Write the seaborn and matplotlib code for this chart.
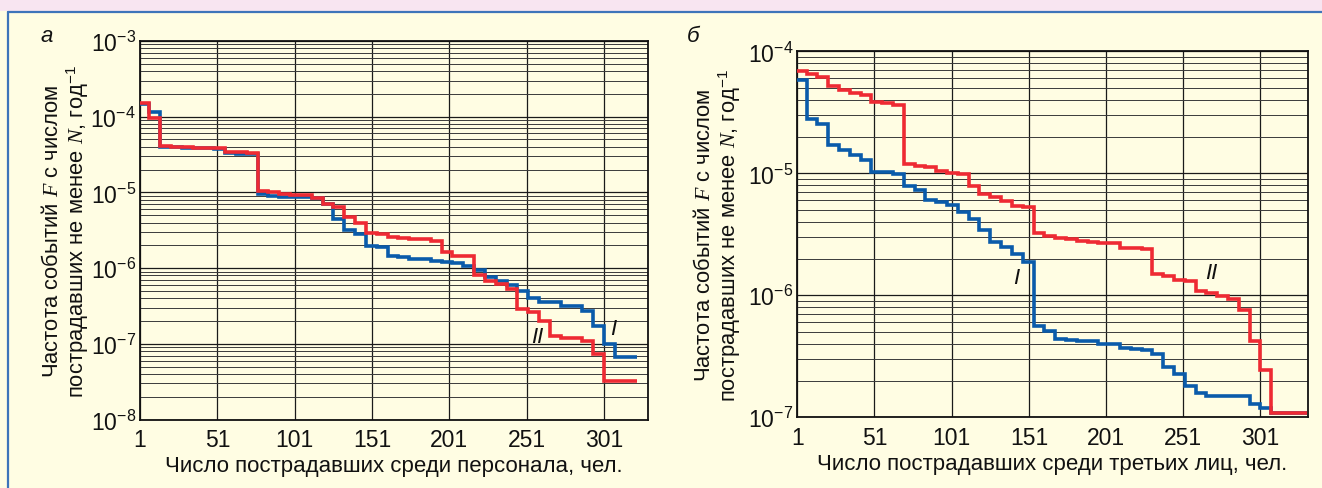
import numpy as np
import pandas as pd
import matplotlib
matplotlib.use("Agg")
import matplotlib.pyplot as plt
from matplotlib.patches import Rectangle
from matplotlib.lines import Line2D
from matplotlib.ticker import LogLocator, FixedLocator, NullFormatter, LogFormatterSciNotation
import seaborn as sns

# ---------------- data ----------------
N_STEPS = [1, 7, 14, 21, 28, 35, 42, 49, 56, 63, 70, 77, 84, 91, 98, 105, 112,
           119, 126, 133, 140, 147, 154, 161, 168, 175, 182, 189, 196, 203, 210,
           217, 224, 231, 238, 245, 252, 259, 266, 273, 280, 287, 294, 301, 308]
END_LEFT = 322
END_RIGHT = 331

# panel a: personnel
LEFT_I = [1.47e-4, 1.14e-4, 4.0e-5, 3.95e-5, 3.9e-5, 3.85e-5, 3.82e-5, 3.8e-5,
          3.28e-5, 3.25e-5, 3.22e-5,
          9.5e-6, 9.0e-6, 8.8e-6, 8.7e-6, 8.6e-6, 8.4e-6, 7.0e-6, 4.5e-6, 3.2e-6,
          2.85e-6, 1.98e-6, 1.88e-6, 1.46e-6, 1.42e-6, 1.32e-6, 1.3e-6, 1.25e-6,
          1.19e-6, 1.16e-6, 1.08e-6,
          9.5e-7, 7.55e-7, 6.82e-7, 5.98e-7, 5.03e-7, 3.99e-7, 3.6e-7, 3.6e-7,
          3.12e-7, 3.12e-7, 2.74e-7, 1.73e-7, 9.9e-8, 6.64e-8]
LEFT_II = [1.52e-4, 9.6e-5, 4.07e-5, 4.02e-5, 3.95e-5, 3.9e-5, 3.86e-5, 3.82e-5,
           3.45e-5, 3.4e-5, 3.35e-5,
           1.05e-5, 1.0e-5, 9.5e-6, 9.3e-6, 9.2e-6, 8.5e-6, 7.0e-6, 6.35e-6, 4.69e-6,
           3.9e-6, 2.91e-6, 2.8e-6, 2.6e-6, 2.52e-6, 2.42e-6, 2.4e-6, 2.3e-6,
           1.62e-6, 1.45e-6, 1.43e-6,
           8.2e-7, 6.7e-7, 6.17e-7, 5.3e-7, 2.88e-7, 2.6e-7, 2.02e-7, 1.26e-7,
           1.18e-7, 1.18e-7, 1.1e-7, 7.33e-8, 3.26e-8, 3.26e-8]

# panel b: third parties
RIGHT_I = [5.85e-5, 2.79e-5, 2.54e-5, 1.71e-5, 1.56e-5, 1.41e-5, 1.29e-5, 1.03e-5,
           1.02e-5, 9.87e-6, 7.92e-6,
           7.34e-6, 6.08e-6, 5.78e-6, 5.5e-6, 4.82e-6, 4.2e-6, 3.45e-6, 2.75e-6,
           2.48e-6, 2.16e-6, 1.87e-6, 5.64e-7, 5.13e-7, 4.38e-7, 4.3e-7, 4.25e-7,
           4.22e-7, 4.0e-7, 3.98e-7, 3.68e-7,
           3.6e-7, 3.57e-7, 3.3e-7, 2.6e-7, 2.26e-7, 1.82e-7, 1.59e-7, 1.49e-7,
           1.49e-7, 1.49e-7, 1.49e-7, 1.29e-7, 1.19e-7, 1.08e-7]
RIGHT_II = [6.86e-5, 6.52e-5, 6.12e-5, 5.16e-5, 4.82e-5, 4.55e-5, 4.41e-5, 3.86e-5,
            3.75e-5, 3.63e-5, 1.19e-5,
            1.15e-5, 1.12e-5, 1.05e-5, 1.0e-5, 9.87e-6, 7.85e-6, 6.72e-6, 6.35e-6,
            5.95e-6, 5.35e-6, 5.3e-6, 3.24e-6, 3.08e-6, 2.97e-6, 2.89e-6, 2.8e-6,
            2.72e-6, 2.68e-6, 2.67e-6, 2.45e-6,
            2.43e-6, 2.4e-6, 1.5e-6, 1.44e-6, 1.33e-6, 1.3e-6, 1.09e-6, 1.05e-6,
            9.8e-7, 9.4e-7, 7.62e-7, 4.25e-7, 2.45e-7, 1.08e-7]

X_TICKS = [1, 51, 101, 151, 201, 251, 301]
XLABEL_A = "Число пострадавших среди персонала, чел."
XLABEL_B = "Число пострадавших среди третьих лиц, чел."
YLABEL = "Частота событий $F$ с числом\nпострадавших не менее $N$, год$^{-1}$"

# ---------------- style ----------------
sns.set_theme(style="white")
FONT = ["Liberation Sans", "DejaVu Sans"]
plt.rcParams["font.family"] = FONT
plt.rcParams["mathtext.fontset"] = "custom"
plt.rcParams["mathtext.rm"] = "Liberation Sans"
plt.rcParams["mathtext.it"] = "Liberation Serif:italic"
plt.rcParams["mathtext.default"] = "it"

CREAM = "#FFFDE3"
BLUE = "#0A5BAA"
RED = "#EE2A33"
GRID_DARK = "#1a1a1a"
GRID_MINOR = "#3a3a3a"
TXT = "#111111"

W, H = 1322, 489
fig = plt.figure(figsize=(W / 100, H / 100), dpi=100)
fig.patch.set_facecolor(CREAM)
# pink top band and blue frame line
fig.add_artist(Rectangle((0, 1 - 11.5 / H), 1, 11.5 / H, transform=fig.transFigure,
                         facecolor="#F8E5F1", edgecolor="none", zorder=0))
fig.add_artist(Line2D([8 / W, 1], [1 - 12.5 / H, 1 - 12.5 / H], transform=fig.transFigure,
                      color="#3E74BA", lw=1.6))
fig.add_artist(Line2D([8 / W, 8 / W], [0, 1 - 12.5 / H], transform=fig.transFigure,
                      color="#3E74BA", lw=1.6))


def make_df(values, end):
    xs = list(N_STEPS) + [end]
    ys = list(values) + [values[-1]]
    return pd.DataFrame({"N": xs, "F": ys})


def draw_panel(rect, series, end, ylim, xlim, xlabel, letter, letter_xy, labels, ylab_x):
    ax = fig.add_axes(rect)
    ax.set_facecolor(CREAM)
    ax.set_yscale("log")
    for vals, color in series:
        sns.lineplot(data=make_df(vals, end), x="N", y="F", ax=ax, color=color,
                     lw=2.6, drawstyle="steps-post", estimator=None, sort=False,
                     zorder=3, solid_joinstyle="miter", solid_capstyle="butt")
    ax.set_xlim(*xlim)
    ax.set_ylim(*ylim)
    ax.xaxis.set_major_locator(FixedLocator(X_TICKS))
    ax.yaxis.set_major_locator(LogLocator(base=10, numticks=20))
    ax.yaxis.set_minor_locator(LogLocator(base=10, subs=np.arange(2, 10), numticks=50))
    ax.yaxis.set_minor_formatter(NullFormatter())
    ax.yaxis.set_major_formatter(LogFormatterSciNotation())
    ax.grid(True, which="major", axis="both", color=GRID_DARK, lw=0.9)
    ax.grid(True, which="minor", axis="y", color=GRID_MINOR, lw=0.7)
    ax.tick_params(axis="both", which="both", length=0, labelsize=16.5, colors=TXT)
    ax.tick_params(axis="x", pad=6)
    ax.tick_params(axis="y", pad=3)
    for s in ax.spines.values():
        s.set_color(TXT)
        s.set_linewidth(1.3)
    ax.set_xlabel(xlabel, fontsize=16, color=TXT, labelpad=3)
    ax.set_ylabel(YLABEL, fontsize=15.8, color=TXT, linespacing=1.05)
    ax.yaxis.set_label_coords(ylab_x, 0.5)
    fig.text(letter_xy[0] / W, 1 - letter_xy[1] / H, letter, fontsize=16,
             style="italic", color=TXT, ha="center", va="center")
    for txt, x, y in labels:
        ax.text(x, y, txt, fontsize=16, style="italic", color=TXT,
                ha="center", va="center")
    return ax


left_rect = [140 / W, 1 - 420.5 / H, 508 / W, 378.5 / H]
right_rect = [797.3 / W, 1 - 418.3 / H, 510.4 / W, 366 / H]

draw_panel(left_rect, [(LEFT_I, BLUE), (LEFT_II, RED)], END_LEFT, (1e-8, 1e-3),
           (1, 329.4), XLABEL_A, "а", (47, 37),
           [("II", 258, 1.23e-7), ("I", 307, 1.58e-7)], -0.097)
draw_panel(right_rect, [(RIGHT_I, BLUE), (RIGHT_II, RED)], END_RIGHT, (1e-7, 1e-4),
           (1, 331.6), XLABEL_B, "б", (693, 37),
           [("I", 142.5, 1.41e-6), ("II", 269, 1.55e-6)], -0.107)

fig.savefig("out.png", dpi=100, facecolor=fig.get_facecolor())
